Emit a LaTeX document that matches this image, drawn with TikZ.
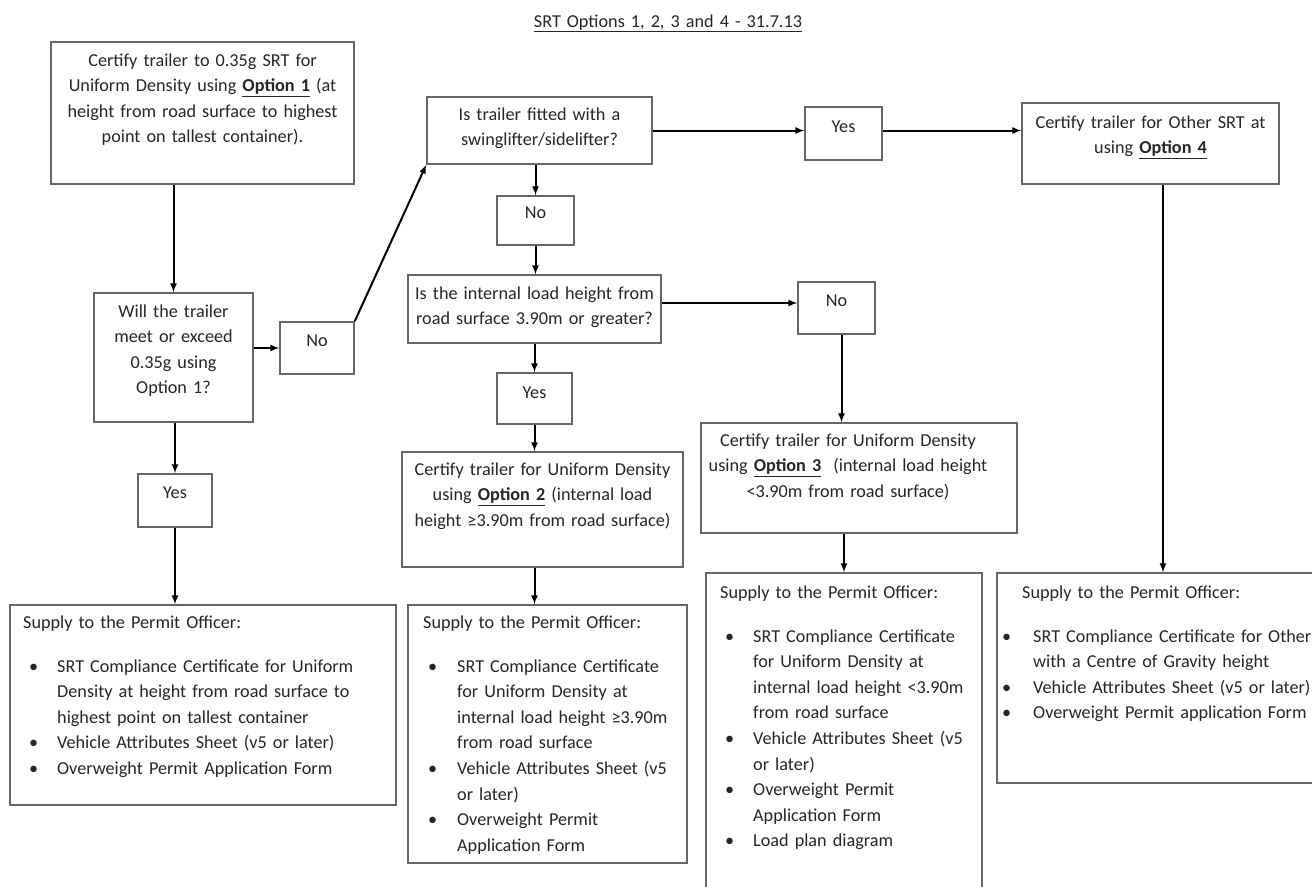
\documentclass[tikz,border=0pt]{standalone}
\usepackage{fontspec}
\setmainfont{Carlito}
\usepackage{tikz}
\usetikzlibrary{arrows,fit,positioning,calc}
\tikzset{
    recuadro/.style={draw=black!60,line width=1.5bp,inner sep=0pt},
    texto/.style={text=black!85,align=center,text width=300bp,inner sep=0pt,anchor=base},
    lista/.style={text=black!85,align=left,inner sep=0pt,anchor=base west},
    flecha/.style={draw,->,>=latex,line width=2bp},
}
\newcommand{\letra}{\fontsize{18.2bp}{25.6bp}\selectfont}
\newcommand{\punto}[2]{\par\noindent\hangindent=#2bp\hangafter=1\hspace*{#1bp}\makebox[\dimexpr#2bp-#1bp\relax][l]{\textbullet}\ignorespaces}

\begin{document}
\begin{tikzpicture}[x=1bp,y=-1bp,every node/.style={font=\letra}]
\useasboundingbox (0,0) rectangle (1312,886);

\node[texto] (titulo) at (668,27) {\underline{SRT Options 1, 2, 3 and 4 - 31.7.13}};

% option 1 column
\node[recuadro,fit={(51,42) (354,184)}] (opt1) {};
\node[texto] (opt1t) at (202.5,66) {Certify trailer to 0.35g SRT for\\Uniform Density using \underline{\textbf{Option 1}} (at\\height from road surface to highest\\point on tallest container).};
\node[recuadro,fit={(94,293) (253,422)}] (meet) {};
\node[texto] (meett) at (173.5,317) {Will the trailer\\meet or exceed\\0.35g using\\Option 1?};
\node[recuadro,fit={(280,322) (354,374)}] (no1) {};
\node[texto] (no1t) at (317,346) {No};
\node[recuadro,fit={(138,474) (212,527)}] (yes3) {};
\node[texto] (yes3t) at (175,498) {Yes};
\node[recuadro,fit={(10,605) (396,805)}] (sup1) {};
\node[lista,text width=370bp] (sup1t) at (23,628) {Supply to the Permit Officer:\par\vspace{18.4bp}
\punto{6}{34}SRT Compliance Certificate for Uniform\newline Density at height from road surface to\newline highest point on tallest container
\punto{6}{34}Vehicle Attributes Sheet (v5 or later)
\punto{6}{34}Overweight Permit Application Form\par};

\draw[flecha] (opt1.south -| meet.north) -- (meet.north);
\draw[flecha] (meet.east |- no1.west) -- (no1.west);
\draw[flecha] (meet.south -| yes3.north) -- (yes3.north);
\draw[flecha] (yes3.south) -- (yes3.south |- sup1.north);

% swinglifter question
\node[recuadro,fit={(427,97) (652,164)}] (swing) {};
\node[texto] (swingt) at (539.5,120) {Is trailer fitted with a\\swinglifter/sidelifter?};
\node[recuadro,fit={(805,107) (882,160)}] (yes1) {};
\node[texto] (yes1t) at (843.5,132) {Yes};
\node[recuadro,fit={(1022,103) (1279,184)}] (opt4) {};
\node[texto] (opt4t) at (1150.5,128) {Certify trailer for Other SRT at\\using \underline{\textbf{Option 4}}};
\node[recuadro,fit={(997,573) (1316,783)}] (sup4) {};
\node[lista,text width=310bp] (sup4t) at (1002,598) {\hspace*{20bp}Supply to the Permit Officer:\par\vspace{18.4bp}
\punto{0}{31}SRT Compliance Certificate for Other\newline with a Centre of Gravity height
\punto{0}{31}Vehicle Attributes Sheet (v5 or later)
\punto{0}{31}Overweight Permit application Form\par};

\draw[flecha] (no1.north east) -- (swing.south west);
\draw[flecha] (swing.east) -- (swing.east -| yes1.west);
\draw[flecha] (swing.east -| yes1.east) -- (swing.east -| opt4.west);
\coordinate (o4) at ($(opt4.south)+(12.5,0)$);
\draw[flecha] (o4) -- (o4 |- sup4.north);

% load height question
\node[recuadro,fit={(497,196) (574,245)}] (no2) {};
\node[texto] (no2t) at (535.5,218) {No};
\node[recuadro,fit={(408,275) (661,343)}] (height) {};
\node[texto] (heightt) at (534.5,299) {Is the internal load height from\\road surface 3.90m or greater?};
\node[recuadro,fit={(798,282) (875,334)}] (no3) {};
\node[texto] (no3t) at (836.5,306) {No};
\node[recuadro,fit={(497,373) (572,424)}] (yes2) {};
\node[texto] (yes2t) at (534.5,398) {Yes};
\node[recuadro,fit={(402,452) (683,567)}] (opt2) {};
\node[texto] (opt2t) at (542.5,475) {Certify trailer for Uniform Density\\using \underline{\textbf{Option 2}} (internal load\\height ≥3.90m from road surface)};
\node[recuadro,fit={(701,423) (1017,533)}] (opt3) {};
\node[texto] (opt3t) at (848,446) {Certify trailer for Uniform Density\\using \underline{\textbf{Option 3}}\ \ (internal load height\\<3.90m from road surface)};
\node[recuadro,fit={(408,605) (687,863)}] (sup2) {};
\node[lista,text width=262bp] (sup2t) at (423,628) {Supply to the Permit Officer:\par\vspace{18.4bp}
\punto{5}{34}SRT Compliance Certificate\newline for Uniform Density at\newline internal load height ≥3.90m\newline from road surface
\punto{5}{34}Vehicle Attributes Sheet (v5\newline or later)
\punto{5}{34}Overweight Permit\newline Application Form\par};
\node[recuadro,fit={(706,573) (982,888)}] (sup3) {};
\node[lista,text width=260bp] (sup3t) at (720,598) {Supply to the Permit Officer:\par\vspace{18.4bp}
\punto{5}{33}SRT Compliance Certificate\newline for Uniform Density at\newline internal load height <3.90m\newline from road surface
\punto{5}{33}Vehicle Attributes Sheet (v5\newline or later)
\punto{5}{33}Overweight Permit\newline Application Form
\punto{5}{33}Load plan diagram\par};

\draw[flecha] (no2.north |- swing.south) -- (no2.north);
\draw[flecha] (no2.south) -- (no2.south |- height.north);
\coordinate (h2) at ($(height.east)+(0,-6)$);
\draw[flecha] (h2) -- (h2 -| no3.west);
\coordinate (n3) at ($(no3.south)+(5,0)$);
\draw[flecha] (n3) -- (n3 |- opt3.north);
\draw[flecha] (yes2.north |- height.south) -- (yes2.north);
\draw[flecha] (yes2.south) -- (yes2.south |- opt2.north);
\draw[flecha] (yes2.south |- opt2.south) -- (yes2.south |- sup2.north);
\draw[flecha] (sup3.north |- opt3.south) -- (sup3.north);
\end{tikzpicture}
\end{document}
